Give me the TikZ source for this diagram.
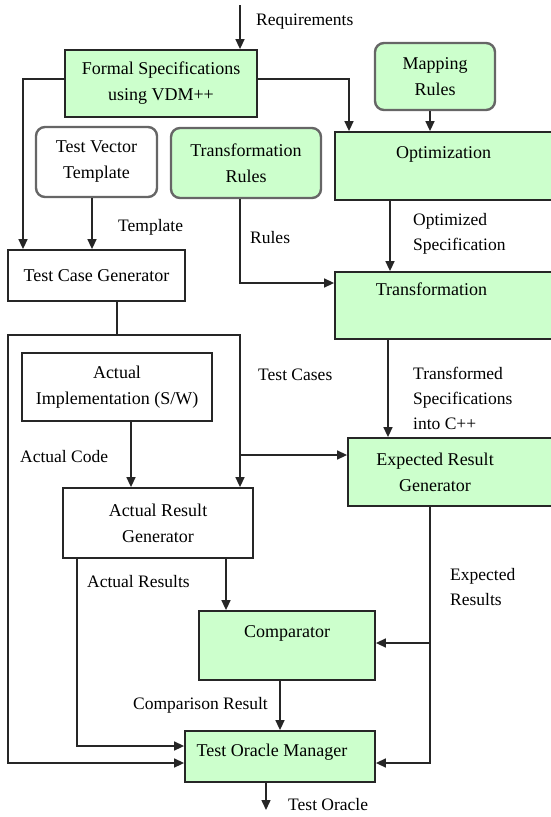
\documentclass[tikz,border=0pt]{standalone}
\usepackage{fontspec}
\setmainfont{Liberation Serif}
\usetikzlibrary{arrows.meta}
\definecolor{boxgreen}{RGB}{204,255,204}
\begin{document}
\begin{tikzpicture}[x=1pt,y=-1pt,
  font=\fontsize{18}{26}\selectfont,
  box/.style={draw=black!85, line width=1.8pt, inner sep=0pt, align=center},
  gbox/.style={box, fill=boxgreen},
  wbox/.style={box, fill=white},
  rbox/.style={box, rounded corners=9pt, draw=black!60, line width=2.4pt},
  lab/.style={inner sep=0pt, align=left, anchor=west, font=\fontsize{17.5}{25}\selectfont},
  toptext/.style={anchor=north, inner sep=0pt},
  conn/.style={line width=1.5pt, draw=black!85},
  arr/.style={conn, -{Triangle[length=10pt,width=9pt]}},
]
\useasboundingbox (0,0) rectangle (551,817);

% boxes
\node[gbox, minimum width=192pt, minimum height=67pt] (fs) at (161,83.5) {Formal Specifications\\using VDM++};
\node[rbox, fill=boxgreen, minimum width=120pt, minimum height=67pt] (map) at (435,76.5) {Mapping\\Rules};
\node[gbox, minimum width=217pt, minimum height=68pt,
  label={[toptext, yshift=-15pt]north:Optimization}] (opt) at (443.5,166) {};
\node[rbox, fill=white, minimum width=121pt, minimum height=70pt] (tvt) at (96.5,162) {Test Vector\\Template};
\node[rbox, fill=boxgreen, minimum width=150pt, minimum height=70pt] (trr) at (246,163) {Transformation\\Rules};
\node[wbox, minimum width=177pt, minimum height=51pt] (tcg) at (96.5,275.5) {Test Case Generator};
\node[gbox, minimum width=217pt, minimum height=67pt,
  label={[toptext, yshift=-12pt, xshift=-12pt]north:Transformation}] (tr) at (443.5,305.5) {};
\node[wbox, minimum width=190pt, minimum height=68pt] (ai) at (117,387) {Actual\\Implementation (S/W)};
\node[wbox, minimum width=190pt, minimum height=70pt] (arg) at (158,523) {Actual Result\\Generator};
\node[gbox, minimum width=204pt, minimum height=68pt,
  label={[anchor=center, inner sep=0pt, align=center, xshift=-15pt]center:Expected Result\\Generator}] (erg) at (450,472) {};
\node[gbox, minimum width=176pt, minimum height=69pt,
  label={[toptext, yshift=-15pt]north:Comparator}] (comp) at (287,645.5) {};
\node[gbox, minimum width=190pt, minimum height=51pt,
  label={[anchor=center, inner sep=0pt, xshift=-8pt, yshift=4pt]center:Test Oracle Manager}] (tom) at (280,756.5) {};

% free ends / junctions
\coordinate (req) at (240,5);
\coordinate (tc) at (117,335);
\coordinate (tcb) at (240,455);
\coordinate (erb) at (430,643);
\coordinate (out) at (266,810);

% connectors
\draw[arr] (req) -- (req |- fs.north);
\draw[arr] ([yshift=4.5pt]fs.west) -| (23,0 |- tcg.north);
\draw[arr] ([yshift=4.5pt]fs.east) -| (349,0 |- opt.north);
\draw[arr] (map.south -| 430,0) -- (430,0 |- opt.north);
\draw[arr] (tvt.south -| 92,0) -- (92,0 |- tcg.north);
\draw[arr] (trr.south -| 240,0) |- (tr.west |- 0,283);
\draw[arr] (opt.south -| 390,0) -- (390,0 |- tr.north);
\draw[conn] (tcg.south -| tc) -- (tc);
\draw[arr] (tc) -| (240,0 |- arg.north);
\draw[arr] (tc) -| (8,763) -- (tom.west |- 0,763);
\draw[arr] (tcb) -- (erg.west |- tcb);
\draw[arr] (ai.south -| 131,0) -- (131,0 |- arg.north);
\draw[arr] (tr.south -| 388,0) -- (388,0 |- erg.north);
\draw[arr] (erg.south -| 430,0) |- (tom.east |- 0,763);
\draw[arr] (erb) -- (comp.east |- erb);
\draw[arr] (arg.south -| 77,0) |- (tom.west |- 0,746);
\draw[arr] (arg.south -| 226,0) -- (226,0 |- comp.north);
\draw[arr] (comp.south -| 280,0) -- (280,0 |- tom.north);
\draw[arr] (tom.south -| out) -- (out);

% labels
\node[lab] (lreq) at (256,22) {Requirements};
\node[lab] (ltpl) at (118,227) {Template};
\node[lab] (lrul) at (250,238) {Rules};
\node[lab] (lopt) at (413,234) {Optimized\\Specification};
\node[lab] (ltc) at (258,375) {Test Cases};
\node[lab] (ltr) at (413,398) {Transformed\\Specifications\\into C++};
\node[lab] (lac) at (20,457) {Actual Code};
\node[lab] (lar) at (87,582) {Actual Results};
\node[lab] (ler) at (450,587) {Expected\\Results};
\node[lab] (lcr) at (133,705) {Comparison Result};
\node[lab] (lto) at (288,805) {Test Oracle};
\end{tikzpicture}
\end{document}
